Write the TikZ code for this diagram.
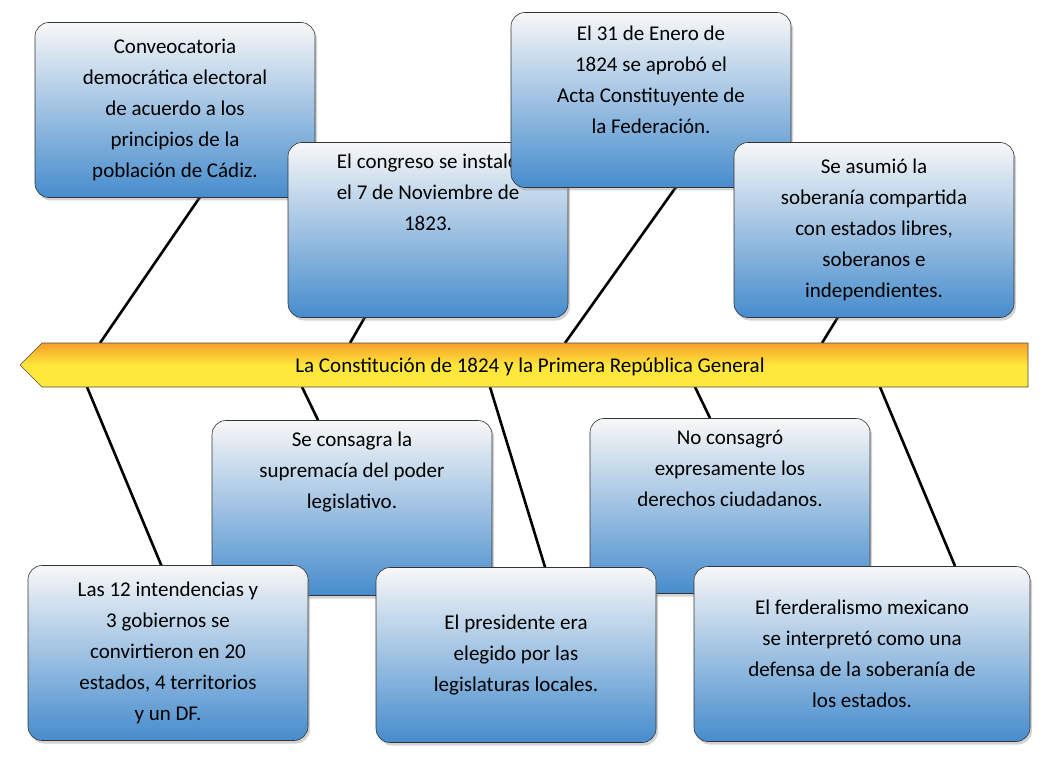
\documentclass[tikz,border=0pt]{standalone}
\usepackage{fontspec}
\setmainfont{Carlito}
\usetikzlibrary{shadows}
\begin{document}
\begin{tikzpicture}[x=1pt,y=-1pt,
  bx/.style={draw=black!80,line width=0.6pt,rounded corners=14pt,top color=black!3,bottom color={rgb,255:red,70;green,140;blue,205},
    minimum width=280pt,minimum height=175pt,align=center,font=\fontsize{21}{31}\selectfont,
    drop shadow={shadow xshift=2pt,shadow yshift=-3pt,opacity=0.35}},
  bone/.style={line width=2.6pt,black}]
\useasboundingbox (0,0) rectangle (1051,759);
% bones
\coordinate (t1a) at (200,197); \coordinate (t1b) at (100,343);
\coordinate (t2a) at (365,317); \coordinate (t2b) at (350,343);
\coordinate (t3a) at (676,187); \coordinate (t3b) at (565,343);
\coordinate (t4a) at (838,317); \coordinate (t4b) at (822,343);
\coordinate (b1a) at (87,387);  \coordinate (b1b) at (162,567);
\coordinate (b2a) at (302,387); \coordinate (b2b) at (318,420);
\coordinate (b3a) at (490,387); \coordinate (b3b) at (545,567);
\coordinate (b4a) at (695,387); \coordinate (b4b) at (710,418);
\coordinate (b5a) at (880,387); \coordinate (b5b) at (955,566);
\foreach \p in {t1,t2,t3,t4,b1,b2,b3,b4,b5} \draw[bone] (\p a) -- (\p b);
% spine
\path[draw=black!70,line width=0.6pt,top color={rgb,255:red,245;green,160;blue,40},bottom color={rgb,255:red,255;green,235;blue,60},middle color={rgb,255:red,255;green,230;blue,60}]
  (20,365) -- (42,343) -- (1028,343) -- (1028,387) -- (42,387) -- cycle;
\node[font=\fontsize{21}{25}\selectfont] (spine) at (530,367) {La Constitución de 1824 y la Primera República General};
% boxes
\node[bx] (n1) at (175,110) {Conveocatoria\\democrática electoral\\de acuerdo a los\\principios de la\\población de Cádiz.};
\node[bx] (n2) at (428,230) {El congreso se instaló\\el 7 de Noviembre de\\1823.\\[45pt]};
\node[bx] (n3) at (651,100) {El 31 de Enero de\\1824 se aprobó el\\Acta Constituyente de\\la Federación.\\[10pt]};
\node[bx] (n4) at (874,230) {Se asumió la\\soberanía compartida\\con estados libres,\\soberanos e\\independientes.};
\node[bx] (n5) at (352,508) {Se consagra la\\supremacía del poder\\legislativo.\\[45pt]};
\node[bx] (n6) at (730,506) {No consagró\\expresamente los\\derechos ciudadanos.\\[45pt]};
\node[bx] (n7) at (168,653) {Las 12 intendencias y\\3 gobiernos se\\convirtieron en 20\\estados, 4 territorios\\y un DF.};
\node[bx] (n8) at (516,655) {El presidente era\\elegido por las\\legislaturas locales.};
\node[bx,minimum width=336pt] (n9) at (862,654) {El ferderalismo mexicano\\se interpretó como una\\defensa de la soberanía de\\los estados.};
\end{tikzpicture}
\end{document}
